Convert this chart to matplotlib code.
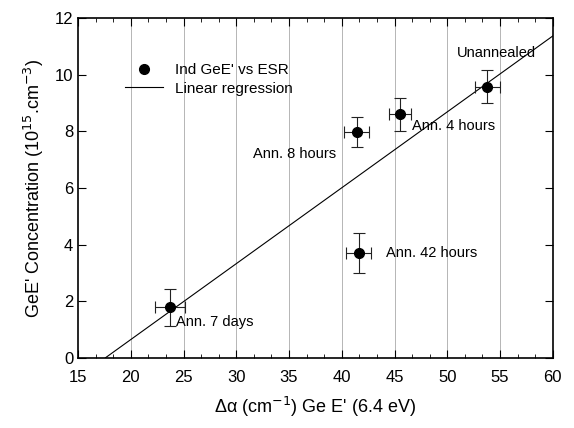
import matplotlib
matplotlib.use("Agg")
from matplotlib import pyplot as plt
from matplotlib.lines import Line2D
from matplotlib.ticker import MultipleLocator, AutoMinorLocator
import numpy as np

plt.rcParams['font.family'] = ['Liberation Sans', 'DejaVu Sans']

# data
labels = ["Ann. 7 days", "Ann. 8 hours", "Ann. 4 hours", "Unannealed", "Ann. 42 hours"]
delta_alpha = [23.7, 41.4, 45.5, 53.8, 41.6]
delta_alpha_err = [1.4, 1.2, 1.05, 1.2, 1.2]
gee_conc = [1.78, 7.97, 8.60, 9.58, 3.70]
gee_conc_err = [0.65, 0.54, 0.59, 0.58, 0.69]

# annotation positions (data units)
label_pos = [(24.3, 1.27), (31.6, 7.2), (46.7, 8.19), (50.9, 10.75), (44.2, 3.7)]

fig = plt.figure(figsize=(5.74, 4.28), dpi=100)
ax = fig.add_axes([0.136, 0.164, 0.827, 0.794])

for x in range(20, 60, 5):
    ax.axvline(x, color='#aaaaaa', lw=0.6, zorder=0)

ax.errorbar(delta_alpha, gee_conc, xerr=delta_alpha_err, yerr=gee_conc_err,
            fmt='o', color='black', ms=7, ecolor='#222222', elinewidth=0.8,
            capsize=4, capthick=0.8, zorder=3)

slope, icpt = np.polyfit(delta_alpha, gee_conc, 1)
xl = np.array([-icpt / slope, 60])
ax.plot(xl, slope * xl + icpt, color='black', lw=0.8)

for (tx, ty), lab in zip(label_pos, labels):
    ax.text(tx, ty, lab, fontsize=10.5, va='center', ha='left')

ax.set_xlim(15, 60)
ax.set_ylim(0, 12)
ax.xaxis.set_major_locator(MultipleLocator(5))
ax.xaxis.set_minor_locator(AutoMinorLocator(3))
ax.yaxis.set_major_locator(MultipleLocator(2))
ax.tick_params(which='both', direction='in', top=True, right=True, labelsize=12)
ax.tick_params(which='major', length=6)
ax.tick_params(which='minor', length=3)
ax.tick_params(axis='x', pad=9)
for s in ax.spines.values():
    s.set_linewidth(1.2)

ax.set_xlabel("Δα (cm$^{-1}$) Ge E' (6.4 eV)", fontsize=13, labelpad=7)
ax.set_ylabel("GeE' Concentration (10$^{15}$.cm$^{-3}$)", fontsize=13, labelpad=6)

handles = [Line2D([], [], marker='o', color='black', ls='none', ms=7),
           Line2D([], [], color='black', lw=0.8)]
ax.legend(handles, ["Ind GeE' vs ESR", "Linear regression"], loc='upper left',
          bbox_to_anchor=(0.085, 0.885), frameon=False, fontsize=11,
          handlelength=2.5, borderaxespad=0, labelspacing=0.3)

fig.savefig("out.png", dpi=100)
